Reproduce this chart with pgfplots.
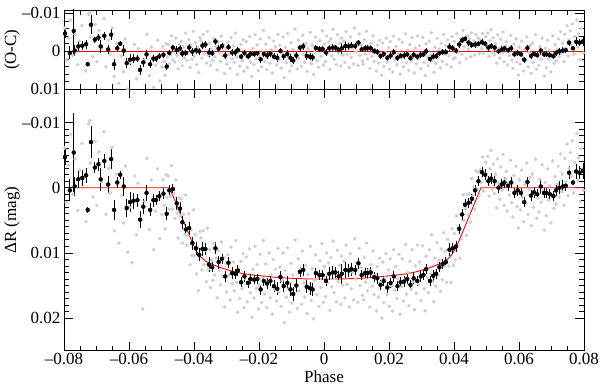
\documentclass[border=0pt]{standalone}
\usepackage{fontspec}
\setmainfont{Liberation Serif}
\usepackage{pgfplots}
\usepackage{pgfplotstable}
\pgfplotsset{compat=1.18}

\pgfplotstableread{
x m r
-0.0798 -0.0061 -0.0061
-0.0793 0.0023 0.0023
-0.0786 -0.0035 -0.0035
-0.0779 -0.0082 -0.0082
-0.0773 0.0010 0.0010
-0.0766 -0.0044 -0.0044
-0.0758 0.0035 0.0035
-0.0752 -0.0027 -0.0027
-0.0745 -0.0068 -0.0068
-0.0739 -0.0015 -0.0015
-0.0733 0.0052 0.0052
-0.0724 -0.0098 -0.0098
-0.0720 -0.0103 -0.0103
-0.0718 -0.0038 -0.0038
-0.0711 0.0014 0.0014
-0.0704 -0.0071 -0.0071
-0.0699 0.0027 0.0027
-0.0692 -0.0055 -0.0055
-0.0684 -0.0009 -0.0009
-0.0677 -0.0086 -0.0086
-0.0671 0.0041 0.0041
-0.0663 -0.0030 -0.0030
-0.0658 0.0008 0.0008
-0.0652 -0.0062 -0.0062
-0.0645 0.0066 0.0066
-0.0638 -0.0021 -0.0021
-0.0631 0.0085 0.0085
-0.0623 0.0012 0.0012
-0.0617 0.0054 0.0054
-0.0611 -0.0033 -0.0033
-0.0604 0.0099 0.0099
-0.0598 0.0030 0.0030
-0.0591 0.0115 0.0115
-0.0583 -0.0018 -0.0018
-0.0577 0.0072 0.0072
-0.0572 -0.0007 -0.0007
-0.0564 0.0048 0.0048
-0.0558 0.0186 0.0186
-0.0551 0.0021 0.0021
-0.0545 -0.0045 -0.0045
-0.0537 0.0064 0.0064
-0.0531 -0.0012 -0.0012
-0.0524 0.0095 0.0095
-0.0518 0.0036 0.0036
-0.0512 -0.0029 -0.0029
-0.0505 0.0078 0.0078
-0.0499 0.0041 0.0041
-0.0496 -0.0012 -0.0012
-0.0492 0.0027 0.0027
-0.0489 0.0063 0.0063
-0.0486 -0.0020 -0.0020
-0.0482 0.0015 0.0015
-0.0479 -0.0018 -0.0018
-0.0476 0.0033 0.0033
-0.0472 0.0013 0.0009
-0.0469 -0.0034 -0.0041
-0.0466 0.0033 0.0022
-0.0462 0.0009 -0.0007
-0.0459 0.0047 0.0028
-0.0456 -0.0012 -0.0035
-0.0452 0.0039 0.0011
-0.0449 0.0077 0.0046
-0.0446 0.0016 -0.0019
-0.0442 0.0043 0.0003
-0.0439 0.0017 -0.0026
-0.0436 0.0085 0.0038
-0.0432 0.0041 -0.0011
-0.0429 0.0072 0.0017
-0.0426 0.0011 -0.0048
-0.0422 0.0088 0.0024
-0.0419 0.0073 0.0006
-0.0416 0.0040 -0.0031
-0.0412 0.0118 0.0042
-0.0409 0.0065 -0.0014
-0.0406 0.0104 0.0021
-0.0402 0.0034 -0.0053
-0.0399 0.0104 0.0013
-0.0396 0.0072 -0.0022
-0.0392 0.0132 0.0035
-0.0389 0.0092 -0.0008
-0.0386 0.0158 0.0056
-0.0382 0.0067 -0.0037
-0.0379 0.0077 -0.0029
-0.0376 0.0126 0.0018
-0.0372 0.0066 -0.0044
-0.0369 0.0118 0.0007
-0.0366 0.0096 -0.0016
-0.0362 0.0144 0.0031
-0.0359 0.0062 -0.0052
-0.0356 0.0125 0.0010
-0.0352 0.0095 -0.0021
-0.0349 0.0153 0.0037
-0.0346 0.0111 -0.0006
-0.0342 0.0142 0.0024
-0.0339 0.0085 -0.0033
-0.0336 0.0134 0.0015
-0.0332 0.0108 -0.0012
-0.0329 0.0169 0.0049
-0.0326 0.0096 -0.0025
-0.0322 0.0126 0.0004
-0.0319 0.0149 0.0027
-0.0316 0.0083 -0.0040
-0.0312 0.0136 0.0012
-0.0309 0.0107 -0.0017
-0.0306 0.0183 0.0058
-0.0302 0.0116 -0.0009
-0.0299 0.0160 0.0034
-0.0296 0.0103 -0.0023
-0.0292 0.0134 0.0008
-0.0289 0.0172 0.0045
-0.0286 0.0091 -0.0036
-0.0282 0.0147 0.0019
-0.0279 0.0114 -0.0014
-0.0276 0.0158 0.0029
-0.0272 0.0081 -0.0048
-0.0269 0.0145 0.0016
-0.0266 0.0191 0.0061
-0.0262 0.0125 -0.0005
-0.0259 0.0170 0.0039
-0.0256 0.0113 -0.0018
-0.0252 0.0155 0.0024
-0.0249 0.0101 -0.0031
-0.0246 0.0184 0.0052
-0.0242 0.0139 0.0007
-0.0239 0.0106 -0.0026
-0.0236 0.0175 0.0043
-0.0232 0.0144 0.0011
-0.0229 0.0094 -0.0039
-0.0226 0.0161 0.0028
-0.0222 0.0199 0.0066
-0.0219 0.0125 -0.0008
-0.0216 0.0169 0.0035
-0.0212 0.0090 -0.0044
-0.0209 0.0154 0.0020
-0.0206 0.0118 -0.0017
-0.0202 0.0186 0.0051
-0.0199 0.0149 0.0014
-0.0196 0.0102 -0.0033
-0.0192 0.0176 0.0041
-0.0189 0.0138 0.0003
-0.0186 0.0081 -0.0055
-0.0182 0.0163 0.0027
-0.0179 0.0117 -0.0019
-0.0176 0.0184 0.0048
-0.0172 0.0145 0.0009
-0.0169 0.0100 -0.0036
-0.0166 0.0169 0.0032
-0.0162 0.0133 -0.0004
-0.0159 0.0194 0.0057
-0.0156 0.0110 -0.0027
-0.0152 0.0155 0.0018
-0.0149 0.0125 -0.0012
-0.0146 0.0174 0.0036
-0.0142 0.0093 -0.0045
-0.0139 0.0160 0.0022
-0.0136 0.0122 -0.0016
-0.0132 0.0182 0.0044
-0.0129 0.0143 0.0005
-0.0126 0.0100 -0.0038
-0.0122 0.0207 0.0069
-0.0119 0.0127 -0.0011
-0.0116 0.0168 0.0030
-0.0112 0.0092 -0.0047
-0.0109 0.0155 0.0016
-0.0106 0.0191 0.0052
-0.0102 0.0116 -0.0023
-0.0099 0.0177 0.0038
-0.0096 0.0134 -0.0005
-0.0092 0.0164 0.0025
-0.0089 0.0080 -0.0059
-0.0086 0.0150 0.0011
-0.0082 0.0185 0.0046
-0.0079 0.0109 -0.0030
-0.0076 0.0158 0.0019
-0.0072 0.0125 -0.0014
-0.0069 0.0179 0.0040
-0.0066 0.0097 -0.0042
-0.0062 0.0146 0.0007
-0.0059 0.0168 0.0028
-0.0056 0.0119 -0.0021
-0.0052 0.0193 0.0053
-0.0049 0.0133 -0.0007
-0.0046 0.0155 0.0015
-0.0042 0.0090 -0.0050
-0.0039 0.0173 0.0033
-0.0036 0.0124 -0.0016
-0.0032 0.0201 0.0061
-0.0029 0.0142 0.0002
-0.0026 0.0103 -0.0037
-0.0022 0.0164 0.0024
-0.0019 0.0131 -0.0009
-0.0016 0.0182 0.0042
-0.0012 0.0112 -0.0028
-0.0009 0.0153 0.0013
-0.0006 0.0086 -0.0054
-0.0002 0.0176 0.0036
0.0001 0.0121 -0.0019
0.0004 0.0167 0.0027
0.0008 0.0100 -0.0040
0.0011 0.0146 0.0006
0.0014 0.0115 -0.0025
0.0018 0.0188 0.0048
0.0021 0.0107 -0.0033
0.0024 0.0152 0.0012
0.0028 0.0082 -0.0058
0.0031 0.0161 0.0021
0.0034 0.0130 -0.0010
0.0038 0.0175 0.0035
0.0041 0.0096 -0.0044
0.0044 0.0144 0.0004
0.0048 0.0119 -0.0021
0.0051 0.0179 0.0039
0.0054 0.0105 -0.0035
0.0058 0.0150 0.0010
0.0061 0.0113 -0.0027
0.0064 0.0169 0.0029
0.0068 0.0088 -0.0052
0.0071 0.0148 0.0008
0.0074 0.0125 -0.0015
0.0078 0.0183 0.0043
0.0081 0.0101 -0.0038
0.0084 0.0155 0.0016
0.0088 0.0130 -0.0009
0.0091 0.0172 0.0033
0.0094 0.0078 -0.0061
0.0098 0.0140 0.0001
0.0101 0.0115 -0.0024
0.0104 0.0176 0.0037
0.0108 0.0093 -0.0046
0.0111 0.0150 0.0011
0.0114 0.0122 -0.0017
0.0118 0.0165 0.0026
0.0121 0.0172 0.0034
0.0124 0.0107 -0.0031
0.0128 0.0145 0.0007
0.0131 0.0085 -0.0053
0.0134 0.0158 0.0020
0.0138 0.0126 -0.0012
0.0141 0.0183 0.0045
0.0144 0.0118 -0.0020
0.0148 0.0151 0.0013
0.0151 0.0097 -0.0041
0.0154 0.0164 0.0026
0.0158 0.0134 -0.0004
0.0161 0.0189 0.0052
0.0164 0.0121 -0.0016
0.0168 0.0168 0.0031
0.0171 0.0108 -0.0029
0.0174 0.0146 0.0009
0.0178 0.0200 0.0063
0.0181 0.0114 -0.0022
0.0184 0.0176 0.0040
0.0188 0.0138 0.0002
0.0191 0.0101 -0.0035
0.0194 0.0164 0.0028
0.0198 0.0126 -0.0010
0.0201 0.0182 0.0047
0.0204 0.0109 -0.0026
0.0208 0.0151 0.0016
0.0211 0.0189 0.0054
0.0214 0.0095 -0.0040
0.0218 0.0157 0.0022
0.0221 0.0121 -0.0013
0.0224 0.0170 0.0036
0.0228 0.0139 0.0005
0.0231 0.0102 -0.0032
0.0234 0.0194 0.0060
0.0238 0.0152 0.0018
0.0241 0.0109 -0.0024
0.0244 0.0174 0.0041
0.0248 0.0142 0.0009
0.0251 0.0087 -0.0046
0.0254 0.0163 0.0030
0.0258 0.0130 -0.0003
0.0261 0.0181 0.0050
0.0264 0.0113 -0.0018
0.0268 0.0156 0.0025
0.0271 0.0095 -0.0036
0.0274 0.0143 0.0012
0.0278 0.0187 0.0057
0.0281 0.0120 -0.0009
0.0284 0.0162 0.0033
0.0288 0.0088 -0.0041
0.0291 0.0148 0.0019
0.0294 0.0114 -0.0015
0.0298 0.0173 0.0046
0.0301 0.0134 0.0008
0.0304 0.0089 -0.0037
0.0308 0.0155 0.0029
0.0311 0.0189 0.0064
0.0314 0.0105 -0.0020
0.0318 0.0138 0.0014
0.0321 0.0161 0.0038
0.0324 0.0095 -0.0027
0.0328 0.0132 0.0010
0.0331 0.0072 -0.0049
0.0334 0.0144 0.0023
0.0338 0.0175 0.0055
0.0341 0.0108 -0.0011
0.0344 0.0151 0.0032
0.0348 0.0084 -0.0034
0.0351 0.0135 0.0017
0.0354 0.0111 -0.0006
0.0358 0.0159 0.0043
0.0361 0.0094 -0.0021
0.0364 0.0141 0.0026
0.0368 0.0069 -0.0044
0.0371 0.0120 0.0008
0.0374 0.0097 -0.0015
0.0378 0.0145 0.0035
0.0381 0.0079 -0.0030
0.0384 0.0120 0.0012
0.0388 0.0098 -0.0008
0.0391 0.0145 0.0041
0.0394 0.0063 -0.0039
0.0398 0.0119 0.0020
0.0401 0.0070 -0.0026
0.0404 0.0111 0.0017
0.0408 0.0043 -0.0047
0.0411 0.0090 0.0003
0.0414 0.0064 -0.0019
0.0418 0.0108 0.0030
0.0421 0.0041 -0.0034
0.0424 0.0079 0.0008
0.0428 0.0011 -0.0055
0.0431 0.0050 -0.0012
0.0434 0.0031 -0.0028
0.0438 0.0073 0.0019
0.0441 0.0010 -0.0041
0.0444 0.0041 -0.0006
0.0448 0.0009 -0.0033
0.0451 0.0053 0.0014
0.0454 -0.0014 -0.0049
0.0458 0.0012 -0.0018
0.0461 -0.0001 -0.0027
0.0464 0.0033 0.0010
0.0468 -0.0026 -0.0044
0.0471 0.0002 -0.0013
0.0474 -0.0024 -0.0035
0.0478 0.0012 0.0006
0.0481 -0.0028 -0.0030
0.0484 -0.0008 -0.0008
0.0488 -0.0047 -0.0047
0.0491 0.0005 0.0005
0.0494 -0.0022 -0.0022
0.0498 -0.0039 -0.0039
0.0501 -0.0011 -0.0011
0.0504 -0.0048 -0.0048
0.0508 0.0013 0.0013
0.0511 -0.0029 -0.0029
0.0514 -0.0057 -0.0057
0.0518 0.0002 0.0002
0.0521 -0.0036 -0.0036
0.0524 0.0009 0.0009
0.0528 -0.0020 -0.0020
0.0531 0.0031 0.0031
0.0534 -0.0044 -0.0044
0.0538 -0.0007 -0.0007
0.0541 0.0018 0.0018
0.0544 -0.0032 -0.0032
0.0548 0.0004 0.0004
0.0551 -0.0051 -0.0051
0.0554 0.0027 0.0027
0.0558 -0.0014 -0.0014
0.0561 -0.0025 -0.0025
0.0564 0.0036 0.0036
0.0568 -0.0008 -0.0008
0.0571 0.0011 0.0011
0.0574 -0.0042 -0.0042
0.0578 0.0023 0.0023
0.0581 0.0045 0.0045
0.0584 -0.0019 -0.0019
0.0588 0.0008 0.0008
0.0591 -0.0033 -0.0033
0.0594 0.0029 0.0029
0.0598 0.0062 0.0062
0.0601 -0.0012 -0.0012
0.0604 0.0034 0.0034
0.0608 -0.0027 -0.0027
0.0611 0.0015 0.0015
0.0614 0.0052 0.0052
0.0618 -0.0005 -0.0005
0.0621 0.0024 0.0024
0.0624 -0.0038 -0.0038
0.0628 0.0041 0.0041
0.0631 0.0003 0.0003
0.0634 -0.0016 -0.0016
0.0638 0.0058 0.0058
0.0641 -0.0021 -0.0021
0.0644 0.0030 0.0030
0.0648 0.0009 0.0009
0.0651 -0.0044 -0.0044
0.0654 0.0047 0.0047
0.0658 0.0016 0.0016
0.0661 0.0037 0.0037
0.0664 -0.0013 -0.0013
0.0668 0.0022 0.0022
0.0671 -0.0035 -0.0035
0.0674 0.0006 0.0006
0.0678 0.0065 0.0065
0.0681 -0.0008 -0.0008
0.0684 0.0043 0.0043
0.0688 -0.0029 -0.0029
0.0691 0.0019 0.0019
0.0694 -0.0003 -0.0003
0.0698 0.0054 0.0054
0.0701 0.0011 0.0011
0.0704 -0.0041 -0.0041
0.0708 0.0032 0.0032
0.0711 -0.0017 -0.0017
0.0714 0.0025 0.0025
0.0718 -0.0006 -0.0006
0.0721 -0.0033 -0.0033
0.0724 0.0014 0.0014
0.0728 -0.0052 -0.0052
0.0731 0.0006 0.0006
0.0734 -0.0021 -0.0021
0.0738 0.0027 0.0027
0.0741 -0.0045 -0.0045
0.0744 -0.0009 -0.0009
0.0748 -0.0067 -0.0067
0.0751 0.0012 0.0012
0.0754 -0.0030 -0.0030
0.0758 -0.0054 -0.0054
0.0761 -0.0018 -0.0018
0.0764 -0.0072 -0.0072
0.0768 0.0008 0.0008
0.0771 -0.0039 -0.0039
0.0774 -0.0025 -0.0025
0.0778 -0.0083 -0.0083
0.0781 -0.0011 -0.0011
0.0784 -0.0046 -0.0046
0.0788 0.0021 0.0021
0.0791 -0.0060 -0.0060
0.0794 -0.0028 -0.0028
0.0798 0.0004 0.0004
}\graydata

\pgfplotstableread{
x m e r
-0.0797 -0.0047 0.0012 -0.0047
-0.0782 0.0004 0.0017 0.0004
-0.0770 -0.0054 0.0060 -0.0054
-0.0767 -0.0002 0.0015 -0.0002
-0.0756 -0.0013 0.0013 -0.0013
-0.0744 -0.0015 0.0012 -0.0015
-0.0732 -0.0019 0.0012 -0.0019
-0.0727 0.0034 0.0004 0.0034
-0.0717 -0.0070 0.0025 -0.0070
-0.0705 -0.0031 0.0008 -0.0031
-0.0694 -0.0036 0.0010 -0.0036
-0.0687 -0.0013 0.0018 -0.0013
-0.0676 -0.0041 0.0010 -0.0041
-0.0664 -0.0005 0.0013 -0.0005
-0.0655 -0.0044 0.0015 -0.0044
-0.0646 0.0034 0.0015 0.0034
-0.0636 -0.0008 0.0008 -0.0008
-0.0627 -0.0020 0.0006 -0.0020
-0.0616 -0.0002 0.0015 -0.0002
-0.0607 0.0031 0.0014 0.0031
-0.0597 0.0022 0.0015 0.0022
-0.0586 0.0020 0.0012 0.0020
-0.0574 0.0019 0.0010 0.0019
-0.0566 0.0049 0.0013 0.0049
-0.0556 0.0029 0.0012 0.0029
-0.0546 0.0008 0.0012 0.0008
-0.0535 0.0034 0.0010 0.0034
-0.0525 0.0019 0.0010 0.0019
-0.0517 0.0019 0.0008 0.0019
-0.0507 0.0013 0.0008 0.0013
-0.0494 0.0009 0.0008 0.0009
-0.0484 0.0040 0.0010 0.0040
-0.0476 0.0004 0.0008 0.0004
-0.0465 0.0002 0.0008 -0.0010
-0.0453 0.0024 0.0010 -0.0003
-0.0443 0.0032 0.0010 -0.0007
-0.0436 0.0053 0.0010 0.0006
-0.0425 0.0064 0.0008 0.0004
-0.0415 0.0062 0.0010 -0.0010
-0.0405 0.0085 0.0010 0.0001
-0.0394 0.0093 0.0010 -0.0003
-0.0384 0.0103 0.0010 0.0000
-0.0374 0.0094 0.0010 -0.0015
-0.0365 0.0094 0.0009 -0.0018
-0.0354 0.0118 0.0012 0.0003
-0.0344 0.0122 0.0008 0.0005
-0.0334 0.0093 0.0009 -0.0026
-0.0324 0.0114 0.0010 -0.0007
-0.0314 0.0109 0.0008 -0.0014
-0.0304 0.0136 0.0008 0.0011
-0.0294 0.0115 0.0008 -0.0011
-0.0283 0.0131 0.0009 0.0003
-0.0273 0.0132 0.0008 0.0003
-0.0265 0.0127 0.0008 -0.0003
-0.0255 0.0145 0.0008 0.0014
-0.0245 0.0136 0.0008 0.0004
-0.0234 0.0146 0.0008 0.0013
-0.0226 0.0140 0.0008 0.0007
-0.0215 0.0141 0.0007 0.0007
-0.0205 0.0140 0.0007 0.0005
-0.0195 0.0156 0.0009 0.0021
-0.0185 0.0143 0.0008 0.0007
-0.0175 0.0147 0.0008 0.0011
-0.0165 0.0143 0.0008 0.0006
-0.0154 0.0151 0.0009 0.0014
-0.0144 0.0155 0.0010 0.0017
-0.0134 0.0137 0.0009 -0.0001
-0.0124 0.0151 0.0009 0.0013
-0.0113 0.0146 0.0010 0.0007
-0.0103 0.0156 0.0010 0.0017
-0.0095 0.0163 0.0010 0.0024
-0.0085 0.0150 0.0010 0.0011
-0.0074 0.0129 0.0008 -0.0010
-0.0064 0.0126 0.0009 -0.0013
-0.0053 0.0152 0.0010 0.0012
-0.0043 0.0154 0.0010 0.0014
-0.0035 0.0156 0.0010 0.0016
-0.0025 0.0131 0.0008 -0.0009
-0.0014 0.0134 0.0008 -0.0006
-0.0004 0.0134 0.0008 -0.0006
0.0006 0.0143 0.0008 0.0003
0.0016 0.0132 0.0010 -0.0008
0.0027 0.0130 0.0010 -0.0010
0.0035 0.0130 0.0008 -0.0010
0.0045 0.0136 0.0008 -0.0004
0.0055 0.0132 0.0015 -0.0008
0.0066 0.0126 0.0012 -0.0014
0.0076 0.0127 0.0010 -0.0013
0.0084 0.0125 0.0010 -0.0015
0.0096 0.0126 0.0008 -0.0014
0.0106 0.0116 0.0008 -0.0023
0.0116 0.0134 0.0008 -0.0005
0.0126 0.0131 0.0008 -0.0008
0.0134 0.0131 0.0008 -0.0008
0.0144 0.0130 0.0008 -0.0008
0.0154 0.0137 0.0008 -0.0001
0.0164 0.0139 0.0008 0.0002
0.0174 0.0149 0.0008 0.0012
0.0184 0.0143 0.0008 0.0007
0.0195 0.0153 0.0008 0.0017
0.0205 0.0146 0.0008 0.0011
0.0215 0.0136 0.0008 0.0002
0.0226 0.0151 0.0008 0.0017
0.0236 0.0145 0.0008 0.0012
0.0246 0.0144 0.0008 0.0011
0.0256 0.0140 0.0008 0.0008
0.0266 0.0149 0.0008 0.0018
0.0276 0.0139 0.0008 0.0009
0.0287 0.0143 0.0008 0.0014
0.0298 0.0136 0.0008 0.0009
0.0306 0.0134 0.0008 0.0008
0.0314 0.0125 0.0008 0.0000
0.0326 0.0143 0.0008 0.0020
0.0336 0.0135 0.0009 0.0014
0.0345 0.0132 0.0008 0.0013
0.0355 0.0122 0.0008 0.0005
0.0365 0.0117 0.0008 0.0002
0.0375 0.0114 0.0008 0.0002
0.0386 0.0095 0.0010 -0.0012
0.0396 0.0093 0.0008 -0.0008
0.0406 0.0090 0.0008 -0.0002
0.0416 0.0063 0.0008 -0.0018
0.0425 0.0041 0.0008 -0.0029
0.0434 0.0026 0.0008 -0.0033
0.0445 0.0023 0.0008 -0.0023
0.0455 0.0017 0.0008 -0.0017
0.0465 0.0004 0.0008 -0.0018
0.0475 -0.0010 0.0008 -0.0020
0.0486 -0.0024 0.0008 -0.0024
0.0496 -0.0020 0.0008 -0.0020
0.0506 -0.0010 0.0008 -0.0010
0.0514 -0.0014 0.0008 -0.0014
0.0525 -0.0010 0.0008 -0.0010
0.0537 0.0000 0.0008 0.0000
0.0547 -0.0005 0.0008 -0.0005
0.0555 -0.0008 0.0008 -0.0008
0.0566 -0.0003 0.0008 -0.0003
0.0576 -0.0008 0.0008 -0.0008
0.0586 0.0008 0.0008 0.0008
0.0596 0.0004 0.0008 0.0004
0.0606 0.0008 0.0008 0.0008
0.0616 0.0022 0.0008 0.0022
0.0626 -0.0009 0.0008 -0.0009
0.0637 0.0012 0.0008 0.0012
0.0646 0.0007 0.0008 0.0007
0.0656 0.0010 0.0008 0.0010
0.0667 -0.0002 0.0012 -0.0002
0.0677 0.0008 0.0008 0.0008
0.0685 0.0008 0.0008 0.0008
0.0695 0.0010 0.0008 0.0010
0.0706 0.0013 0.0008 0.0013
0.0714 0.0004 0.0008 0.0004
0.0724 0.0000 0.0010 0.0000
0.0735 -0.0002 0.0010 -0.0002
0.0744 -0.0003 0.0008 -0.0003
0.0754 -0.0023 0.0010 -0.0023
0.0766 -0.0008 0.0004 -0.0008
0.0776 -0.0025 0.0012 -0.0025
0.0786 -0.0023 0.0010 -0.0023
0.0797 -0.0026 0.0012 -0.0026
}\bindata

\pgfplotstableread{
x m
-0.0760 0
-0.0475 0
-0.0466 0.0011
-0.0456 0.0023
-0.0446 0.0035
-0.0436 0.0047
-0.0426 0.0059
-0.0416 0.0071
-0.0406 0.0083
-0.0396 0.0094
-0.0386 0.0102
-0.0376 0.0108
-0.0366 0.0112
-0.0356 0.0115
-0.0346 0.0117
-0.0336 0.0119
-0.0316 0.0123
-0.0296 0.0126
-0.0276 0.0129
-0.0246 0.0132
-0.0216 0.0134
-0.0176 0.0136
-0.0136 0.0138
-0.0096 0.0139
-0.0046 0.0140
0.0004 0.0140
0.0054 0.0140
0.0104 0.0139
0.0144 0.0138
0.0184 0.0136
0.0224 0.0134
0.0254 0.0132
0.0284 0.0129
0.0304 0.0126
0.0324 0.0123
0.0344 0.0119
0.0354 0.0117
0.0364 0.0115
0.0374 0.0112
0.0384 0.0108
0.0394 0.0102
0.0404 0.0094
0.0414 0.0083
0.0424 0.0071
0.0434 0.0059
0.0444 0.0047
0.0454 0.0035
0.0464 0.0023
0.0474 0.0011
0.0483 0
0.0800 0
}\modeldata

\pgfplotsset{
  lcstyle/.style={
    scale only axis,
    width=520bp,
    xmin=-0.08, xmax=0.08,
    scaled x ticks=false,
    scaled y ticks=false,
    xtick={-0.08,-0.06,-0.04,-0.02,0,0.02,0.04,0.06,0.08},
    minor x tick num=3,
    y dir=reverse,
    major tick length=9bp,
    minor tick length=5bp,
    tick style={black, line width=0.8bp},
    axis line style={line width=0.8bp},
    tick label style={font=\fontsize{17bp}{20bp}\selectfont},
    label style={font=\fontsize{17bp}{20bp}\selectfont},
    ylabel style={at={(axis description cs:-0.1,0.5)}, anchor=center},
  },
  graypts/.style={only marks, mark=*, mark size=1.6bp, color=black!19},
  binpts/.style={only marks, mark=*, mark size=2bp, color=black,
    error bars/.cd, y dir=both, y explicit,
    error bar style={line width=0.8bp, black}, error mark=none},
}

\begin{document}
\begin{tikzpicture}
\path[use as bounding box] (0,0) rectangle (600bp,387bp);
% lower panel
\begin{axis}[lcstyle,
  at={(64bp,36.3bp)}, anchor=south west,
  height=261.4bp,
  ymin=-0.0151, ymax=0.025,
  ytick={-0.01,0,0.01,0.02},
  yticklabels={–0.01,0,0.01,0.02},
  minor y tick num=9,
  xticklabels={–0.08,–0.06,–0.04,–0.02,0,0.02,0.04,0.06,0.08},
  xticklabel shift=-1.5bp,
  xlabel={Phase},
  xlabel style={at={(axis description cs:0.5,0.5)}, anchor=center, inner sep=0pt, yshift=-157bp},
  ylabel={ΔR (mag)},
]
\addplot[graypts] table[x=x,y=m]{\graydata};
\addplot[red, line width=0.9bp] table[x=x,y=m]{\modeldata};
\addplot[binpts] table[x=x,y=m,y error=e]{\bindata};
\end{axis}
% upper panel
\begin{axis}[lcstyle,
  at={(64bp,297.7bp)}, anchor=south west,
  height=79.3bp,
  ymin=-0.0109, ymax=0.01,
  ytick={-0.01,0,0.01},
  yticklabels={–0.01,0,0.01},
  minor y tick num=4,
  xticklabel=\empty,
  ylabel={(O-C)},
]
\addplot[graypts] table[x=x,y=r]{\graydata};
\addplot[red, line width=0.9bp] coordinates {(-0.076,0) (0.08,0)};
\addplot[binpts] table[x=x,y=r,y error=e]{\bindata};
\end{axis}
\end{tikzpicture}
\end{document}
